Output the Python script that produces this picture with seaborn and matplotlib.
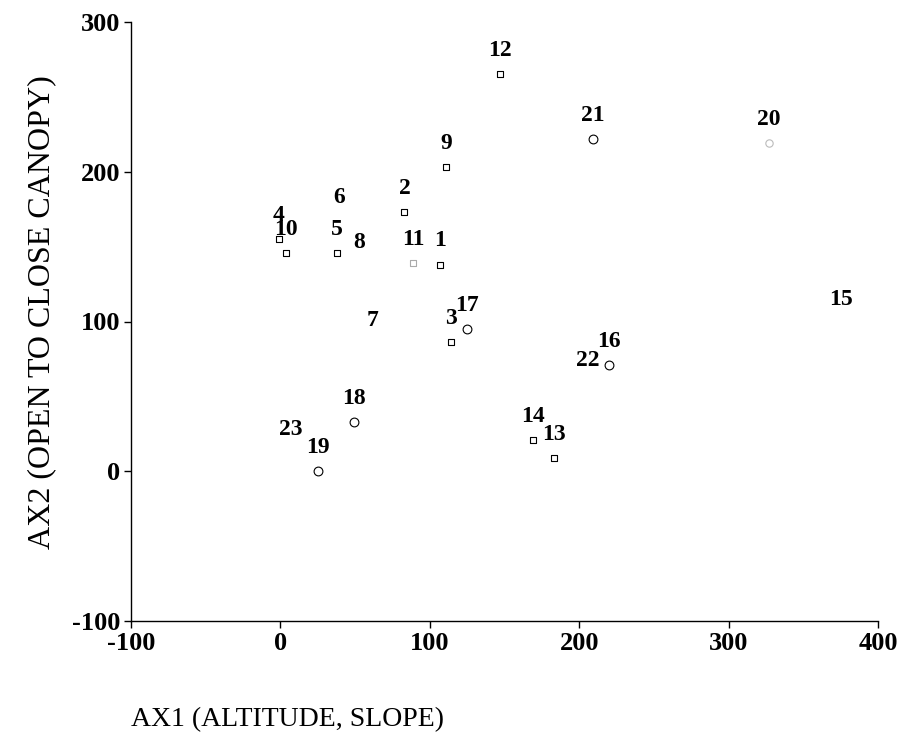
import matplotlib
matplotlib.use("Agg")
import matplotlib.pyplot as plt
import seaborn as sns
import pandas as pd

# ---- data ----
plot_ids = ["1", "2", "3", "4", "5", "6", "7", "8", "9", "10", "11", "12",
            "13", "14", "15", "16", "17", "18", "19", "20", "21", "22", "23"]
ax1_vals = [107, 83, 114, -1, 38, 39, 62, 53, 111, 4, 89, 147,
            183, 169, 375, 220, 125, 49, 25, 327, 209, 206, 7]
ax2_vals = [138, 173, 86, 155, 146, 167, 85, 137, 203, 146, 139, 265,
            9, 21, 99, 71, 95, 33, 0, 219, 222, 58, 12]
marker_kind = ["square", "square", "square", "square", "square", "hidden", "hidden",
               "hidden", "square", "square", "faint_sq", "square", "square", "square",
               "hidden", "circle", "circle", "circle", "circle", "faint_ci", "circle",
               "hidden", "hidden"]
x_ticks = [-100, 0, 100, 200, 300, 400]
y_ticks = [-100, 0, 100, 200, 300]
x_title = "AX1 (ALTITUDE, SLOPE)"
y_title = "AX2 (OPEN TO CLOSE CANOPY)"

df = pd.DataFrame({"id": plot_ids, "AX1": ax1_vals, "AX2": ax2_vals, "kind": marker_kind})

sns.set_style("ticks")
plt.rcParams["font.family"] = ["Liberation Serif", "DejaVu Serif"]
plt.rcParams["text.color"] = "black"
plt.rcParams["axes.labelcolor"] = "black"
plt.rcParams["xtick.color"] = "black"
plt.rcParams["ytick.color"] = "black"

fig = plt.figure(figsize=(9.01, 7.45), dpi=100)
ax = fig.add_axes([131 / 901, 1 - 621 / 745, 747 / 901, 599 / 745])

styles = {
    "square": dict(marker="s", s=20, edgecolor="black"),
    "faint_sq": dict(marker="s", s=20, edgecolor="#aaaaaa"),
    "circle": dict(marker="o", s=40, edgecolor="black"),
    "faint_ci": dict(marker="o", s=28, edgecolor="#bbbbbb"),
}
for kind, st in styles.items():
    sub = df[df["kind"] == kind]
    sns.scatterplot(data=sub, x="AX1", y="AX2", ax=ax, color="white",
                    linewidth=0.8, legend=False, zorder=3, **st)

for _, r in df.iterrows():
    ax.annotate(r["id"], (r["AX1"], r["AX2"]), xytext=(0, 17),
                textcoords="offset points", ha="center", va="center",
                fontsize=17, fontweight="bold", color="black")

ax.set_xlim(-100, 400)
ax.set_ylim(-100, 300)
ax.set_xticks(x_ticks)
ax.set_yticks(y_ticks)
ax.set_xticklabels([str(v) for v in x_ticks], fontsize=19, fontweight="bold")
ax.set_yticklabels([str(v) for v in y_ticks], fontsize=19, fontweight="bold")
ax.tick_params(direction="out", length=5, width=1, color="black", pad=3)
sns.despine(ax=ax)
for sp in ["left", "bottom"]:
    ax.spines[sp].set_color("black")
    ax.spines[sp].set_linewidth(1)

ax.set_xlabel(x_title, fontsize=20, ha="left", va="center", color="black")
ax.xaxis.set_label_coords(0.0, -0.165)
ax.set_ylabel(y_title, fontsize=23, ha="center", va="center", color="black")
ax.yaxis.set_label_coords(-0.12, 0.516)

fig.savefig("out.png", dpi=100, facecolor="white")
